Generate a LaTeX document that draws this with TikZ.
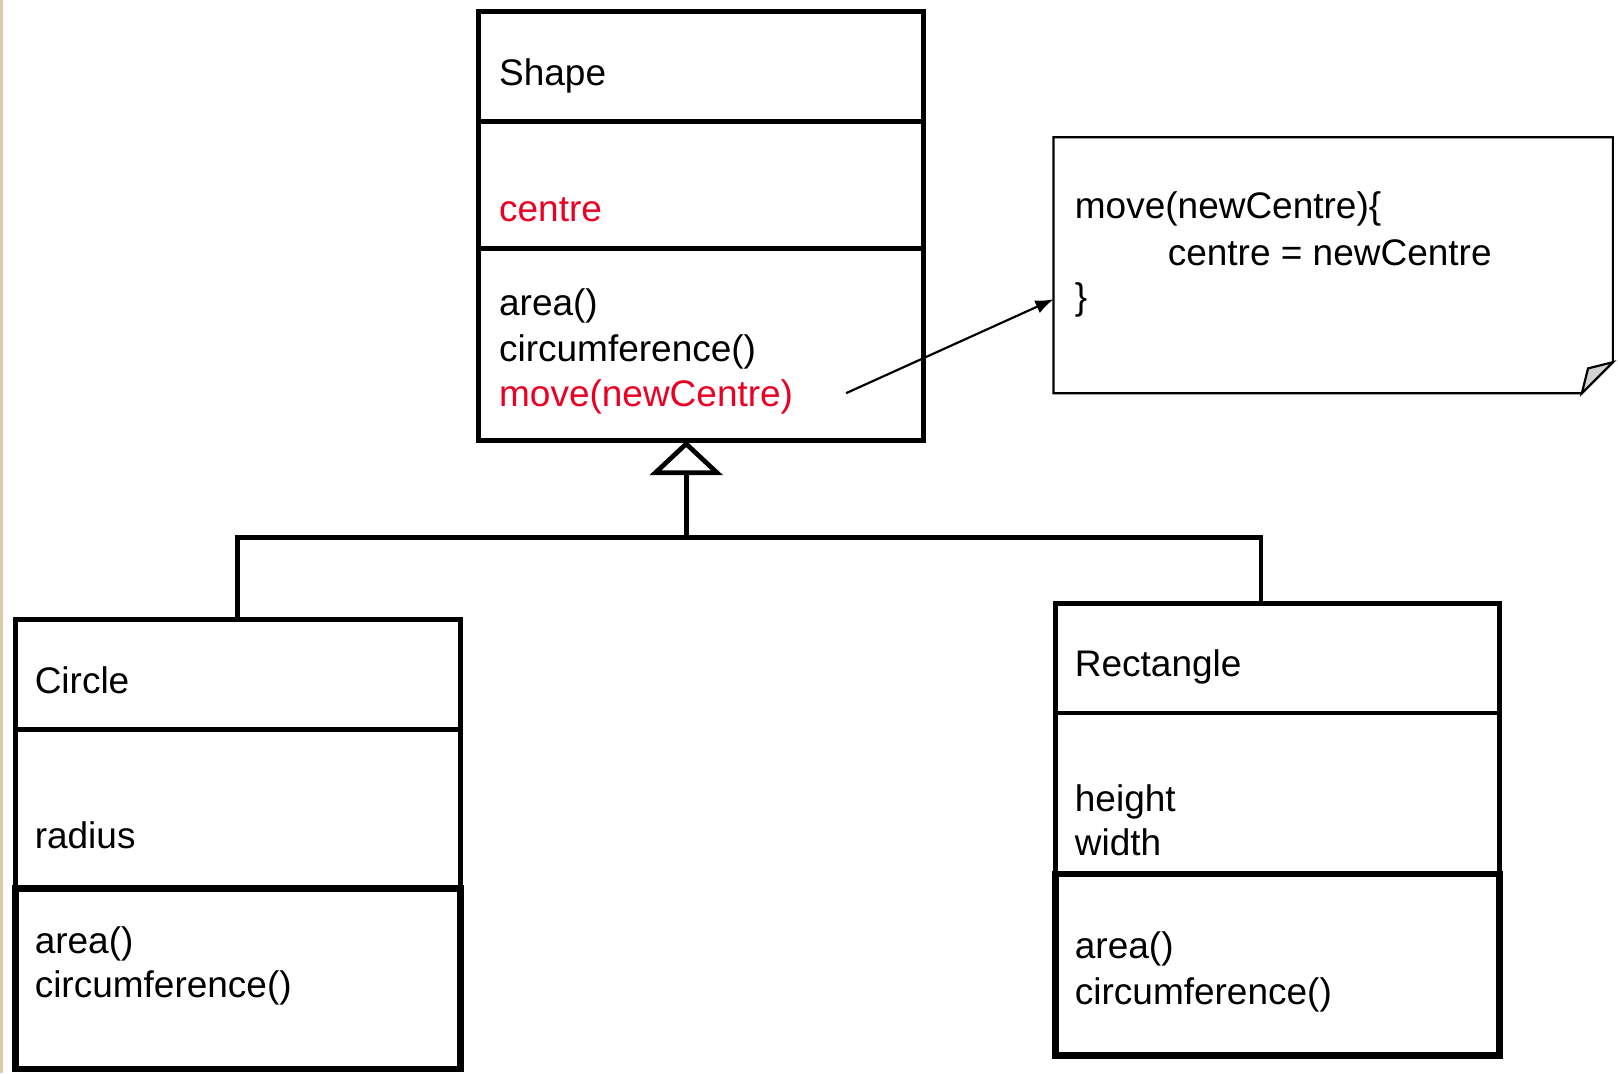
\documentclass[tikz,border=0pt]{standalone}
\usepackage{fontspec}
\setmainfont{Liberation Sans}
\usetikzlibrary{positioning,arrows.meta}
\definecolor{umlred}{RGB}{235,0,35}
\definecolor{slideedge}{RGB}{218,204,170}
\definecolor{foldgray}{RGB}{210,210,210}
\begin{document}
\begin{tikzpicture}[x=0.1mm,y=-0.1mm,font=\fontsize{10.2pt}{12.5pt}\selectfont,
  box/.style={draw,line width=1.3pt,inner sep=0pt,outer sep=0pt,minimum width=43.1mm,anchor=north},
  opsbox/.style={box,line width=1.9pt},
  member/.style={anchor=base west,inner sep=0pt},
  umlline/.style={line width=1.3pt}]
\useasboundingbox (0,0) rectangle (1568,1040);
\fill[slideedge] (0,0) rectangle (3,1040);
\node[box,minimum height=10.7mm] (shapeName) at (679.5,11) {};
\node[box,minimum height=12.3mm,below=0pt of shapeName] (shapeAttr) {};
\node[box,minimum height=18.6mm,below=0pt of shapeAttr] (shapeOps) {};
\node[member] (shapeTitle) at (483,83) {Shape};
\node[member,text=umlred] (shapeCentre) at (483,215) {centre};
\foreach \y/\txt in {306/{area()},350/{circumference()}}
  \node[member] (shapeOp\y) at (483,\y) {\txt};
\node[member,text=umlred] (shapeMove) at (483,394) {move(newCentre)};
\node[box,minimum height=10.7mm] (circleName) at (230.5,600) {};
\node[box,minimum height=15.4mm,below=0pt of circleName] (circleAttr) {};
\node[opsbox,minimum height=17.5mm,below=0pt of circleAttr] (circleOps) {};
\node[member] (circleTitle) at (33,672) {Circle};
\node[member] (circleRadius) at (33,822) {radius};
\foreach \y/\txt in {924/{area()},967/{circumference()}}
  \node[member] (circleOp\y) at (33,\y) {\txt};
\node[box,minimum width=43mm,minimum height=10.6mm] (rectName) at (1238,585) {};
\node[box,minimum width=43mm,minimum height=15.6mm,below=0pt of rectName] (rectAttr) {};
\node[opsbox,minimum width=43mm,minimum height=17.6mm,below=0pt of rectAttr] (rectOps) {};
\node[member] (rectTitle) at (1041,656) {Rectangle};
\foreach \y/\txt in {786/height,829/width,929/{area()},973/{circumference()}}
  \node[member] (rectMember\y) at (1041,\y) {\txt};
\node[inner sep=0pt,outer sep=0pt,minimum width=54.2mm,minimum height=24.8mm,anchor=north west] (noteBox) at (1021,133) {};
\draw[line width=0.6pt] (noteBox.north west) -- (noteBox.north east) -- ([yshift=3mm]noteBox.south east)
  -- ([xshift=-3mm]noteBox.south east) -- (noteBox.south west) -- cycle;
\filldraw[fill=foldgray,line width=0.6pt] ([yshift=3mm]noteBox.south east) -- ([xshift=-2.4mm,yshift=2.4mm]noteBox.south east)
  -- ([xshift=-3mm]noteBox.south east) -- cycle;
\node[member] (noteHead) at (1041,212) {move(newCentre)\{};
\node[member] (noteBody) at (1131,257) {centre = newCentre};
\node[member] (noteEnd) at (1041,300) {\}};
\coordinate (moveTail) at (820,381);
\draw[line width=0.6pt,-{Latex[length=5pt,width=3.8pt]}] (moveTail) -- ([yshift=-3.3mm]noteBox.west);
\coordinate (joint) at (665,521);
\coordinate (rectTop) at (1222,585);
\draw[umlline] (circleName.north) |- (joint) -| (rectTop);
\draw[umlline,-{Triangle[open,length=9.5pt,width=20pt]}] (joint) -- (shapeOps.south -| joint);
\end{tikzpicture}
\end{document}
